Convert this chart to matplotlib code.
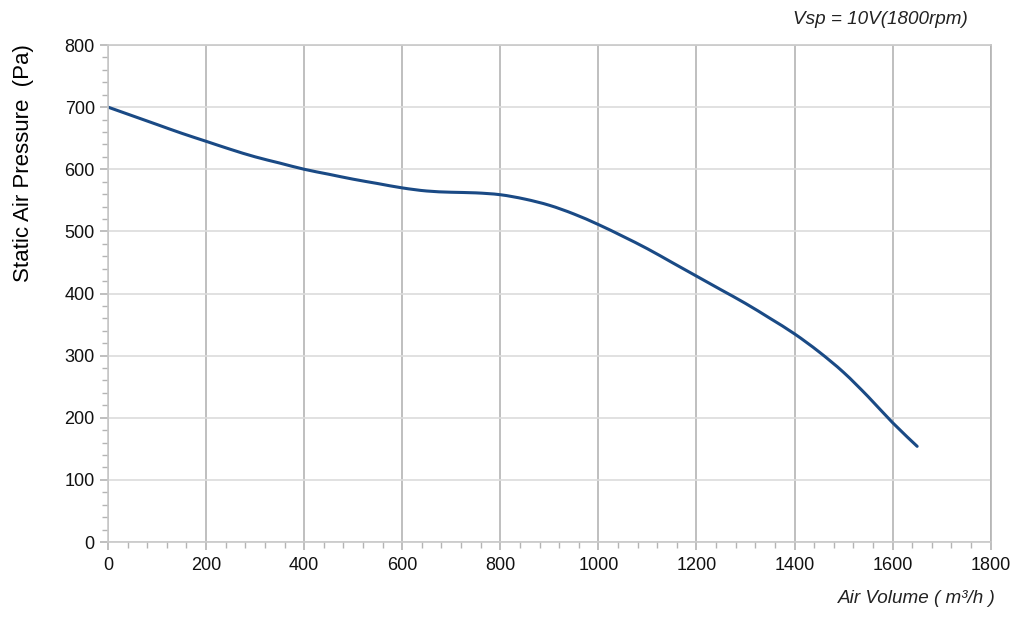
import matplotlib.pyplot as plt
from matplotlib.path import Path
from matplotlib.patches import PathPatch
from matplotlib.ticker import MultipleLocator

plt.rcParams['font.family'] = ['Liberation Sans', 'DejaVu Sans']

# Fan curve
air_volume = [0, 50, 100, 150, 200, 250, 300, 350, 400, 450, 500, 550, 600,
              650, 700, 750, 800, 850, 900, 950, 1000, 1050, 1100, 1150, 1200,
              1250, 1300, 1350, 1400, 1450, 1500, 1550, 1600, 1650]
pressure = [700, 686, 672, 658, 645, 632, 620, 610, 600, 592, 584, 577, 570,
            565, 563, 562, 559, 552, 542, 528, 511, 492, 472, 450, 428,
            406, 384, 360, 335, 306, 273, 234, 192, 154]


def smooth_path(xs, ys):
    # Catmull-Rom through the points, drawn as cubic Bezier segments
    pts = list(zip(xs, ys))
    verts = [pts[0]]
    codes = [Path.MOVETO]
    n = len(pts)
    for i in range(n - 1):
        p0 = pts[max(i - 1, 0)]
        p1 = pts[i]
        p2 = pts[i + 1]
        p3 = pts[min(i + 2, n - 1)]
        c1 = (p1[0] + (p2[0] - p0[0]) / 6, p1[1] + (p2[1] - p0[1]) / 6)
        c2 = (p2[0] - (p3[0] - p1[0]) / 6, p2[1] - (p3[1] - p1[1]) / 6)
        verts += [c1, c2, p2]
        codes += [Path.CURVE4] * 3
    return Path(verts, codes)


fig = plt.figure(figsize=(10.24, 6.2), dpi=100)
ax = fig.add_axes([0.1055, 0.1258, 0.862, 0.8016])

ax.add_patch(PathPatch(smooth_path(air_volume, pressure), fill=False,
                       edgecolor='#1a4a85', lw=2.2, capstyle='round'))

ax.set_xlim(0, 1800)
ax.set_ylim(0, 800)
ax.xaxis.set_major_locator(MultipleLocator(200))
ax.xaxis.set_minor_locator(MultipleLocator(40))
ax.yaxis.set_major_locator(MultipleLocator(100))
ax.yaxis.set_minor_locator(MultipleLocator(20))

ax.grid(True, axis='x', which='major', color='#b4b4b4', lw=1.2)
ax.grid(True, axis='y', which='major', color='#dcdcdc', lw=1.2)
ax.set_axisbelow(True)

for s in ax.spines.values():
    s.set_color('#c8c8c8')
    s.set_linewidth(1.2)
ax.spines['right'].set_color('#b4b4b4')

ax.tick_params(which='both', direction='out', color='#b4b4b4', labelsize=13,
               labelcolor='#111111')
ax.tick_params(which='major', length=6, width=1.2)
ax.tick_params(which='minor', length=4, width=1.0)
ax.tick_params(axis='x', pad=5)

ax.set_ylabel('Static Air Pressure  (Pa)', fontsize=16)
ax.yaxis.set_label_coords(-0.084, 0.763)
fig.text(0.972, 0.035, 'Air Volume ( m³/h )', fontsize=13.6, style='italic',
         ha='right', va='center', color='#222222')
fig.text(0.945, 0.968, 'Vsp = 10V(1800rpm)', fontsize=13.6, style='italic',
         ha='right', va='center', color='#222222')

fig.savefig('out.png', dpi=100)
